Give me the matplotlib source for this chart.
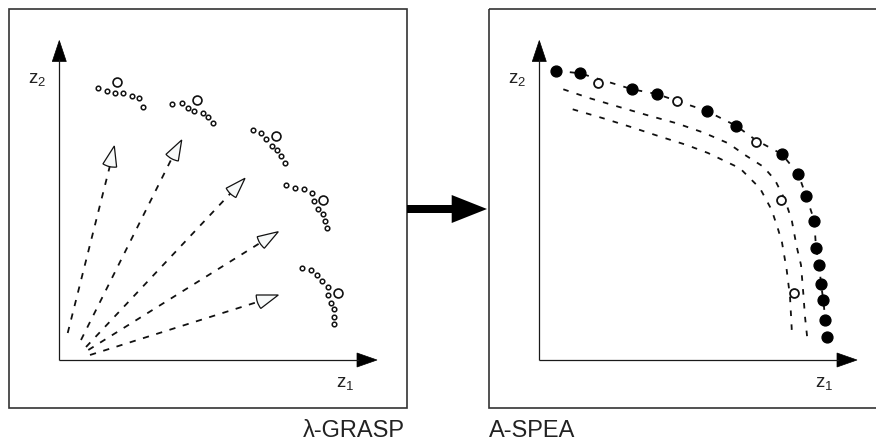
import numpy as np
import matplotlib
matplotlib.use("Agg")
import matplotlib.pyplot as plt
from matplotlib.patches import Rectangle, Polygon, Wedge

plt.rcParams['font.family'] = ['Liberation Sans', 'DejaVu Sans']
plt.rcParams['mathtext.default'] = 'regular'
plt.rcParams['lines.scale_dashes'] = False

# ---------------- data (pixel-space schematic coordinates) ----------------
# Left panel (lambda-GRASP): five clusters of small solutions + one big circle each
cluster1_x = [97.7, 107.3, 115.0, 123.3, 132.3, 139.3, 142.7]
cluster1_y = [88.3, 90.7, 93.3, 92.7, 96.0, 97.7, 106.7]
cluster2_x = [172.0, 181.7, 187.7, 194.3, 202.7, 208.3, 213.3]
cluster2_y = [103.7, 102.7, 107.7, 111.0, 113.3, 117.3, 122.7]
cluster3_x = [252.7, 261.3, 265.7, 271.7, 276.7, 281.3, 285.0]
cluster3_y = [130.0, 132.7, 139.3, 145.7, 150.0, 155.7, 162.7]
cluster4_x = [286.0, 295.0, 304.0, 312.3, 314.3, 318.3, 322.7, 325.0, 327.3]
cluster4_y = [185.3, 187.7, 189.0, 193.3, 201.0, 209.0, 214.3, 220.7, 228.3]
cluster5_x = [301.7, 311.0, 317.3, 322.3, 328.3, 328.3, 330.7, 334.0, 334.3, 334.0]
cluster5_y = [268.3, 270.0, 275.0, 280.7, 287.3, 295.0, 303.3, 309.3, 317.3, 324.3]
big_x = [117.3, 196.7, 276.0, 322.7, 338.3]
big_y = [82.0, 100.0, 136.0, 200.0, 293.3]

# Search-direction arrows: start point, arrow tip, two base corners
arrow_start = [(67.7, 333.0), (81.0, 340.0), (86.0, 347.0), (88.3, 350.0), (90.0, 355.0)]
arrow_tip = [(114.3, 146.0), (181.7, 140.0), (245.0, 178.3), (278.3, 231.7), (278.3, 295.0)]
arrow_c1 = [(103.3, 163.3), (166.0, 154.3), (226.0, 188.3), (257.3, 236.7), (256.0, 295.0)]
arrow_c2 = [(116.7, 167.7), (178.3, 161.0), (236.0, 197.3), (264.3, 248.3), (261.0, 308.3)]

# Right panel (A-SPEA): three dashed fronts
outer_x = [556.0, 580.0, 632.3, 656.7, 706.7, 736.0, 755.7, 781.7, 798.3, 806.0,
           814.3, 816.0, 819.3, 821.0, 823.3, 825.3, 827.3]
outer_y = [70.7, 73.3, 89.3, 94.0, 111.0, 125.7, 140.0, 154.0, 174.0, 195.7,
           220.7, 248.3, 265.0, 284.0, 300.0, 320.0, 336.7]
middle_x = [563.3, 590.0, 618.3, 646.7, 676.7, 703.3, 728.3, 745.0, 763.3, 775.0,
            785.0, 791.7, 796.7, 801.0, 803.3, 805.0, 807.3]
middle_y = [89.3, 98.3, 106.7, 115.0, 123.3, 132.5, 143.3, 155.0, 166.7, 180.0,
            200.0, 220.0, 246.7, 265.0, 293.3, 316.7, 338.3]
inner_x = [572.7, 603.3, 630.0, 658.3, 686.7, 708.0, 740.0, 760.0, 771.7, 778.3,
           782.0, 786.7, 790.0, 791.7, 791.7]
inner_y = [109.3, 118.3, 126.7, 136.0, 145.0, 153.0, 168.3, 188.3, 210.0, 230.0,
           242.5, 270.0, 296.7, 328.3, 331.7]
# Filled dots (archive) and open circles
filled_x = [556.0, 580.0, 632.3, 656.7, 706.7, 736.0, 781.7, 798.3, 806.0, 814.3,
            816.0, 819.3, 821.0, 823.3, 825.3, 827.3]
filled_y = [70.7, 73.3, 89.3, 94.0, 111.0, 125.7, 154.0, 174.0, 195.7, 220.7,
            248.3, 265.0, 284.0, 300.0, 320.0, 336.7]
open_x = [597.7, 676.7, 755.7, 781.0, 793.5]
open_y = [83.3, 100.7, 141.7, 200.0, 293.3]

labels_bottom = ["λ-GRASP", "A-SPEA"]

# ---------------- figure ----------------
W, H = 876, 443
fig = plt.figure(figsize=(W / 100, H / 100), dpi=100)
ax = fig.add_axes([0, 0, 1, 1])
ax.set_xlim(0, W)
ax.set_ylim(H, 0)
ax.axis('off')

frame_c = '#333333'
ax_c = '#1a1a1a'

# panel frames
ax.add_patch(Rectangle((8.5, 9.0), 398.5, 398.5, fill=False, ec=frame_c, lw=1.2))
ax.add_patch(Rectangle((489.3, 9.0), 398.5, 398.5, fill=False, ec=frame_c, lw=1.2))


def axes_arrows(x0, y0, xend, ytop):
    ax.plot([x0, x0], [y0, ytop + 18], color=ax_c, lw=0.9, solid_capstyle='butt')
    ax.plot([x0, xend - 18], [y0, y0], color=ax_c, lw=0.9, solid_capstyle='butt')
    ax.add_patch(Polygon([(x0, ytop), (x0 - 7, ytop + 21), (x0 + 7, ytop + 21)],
                         closed=True, fc='black', ec='black', lw=0.5))
    ax.add_patch(Polygon([(xend, y0), (xend - 20, y0 - 7), (xend - 20, y0 + 7)],
                         closed=True, fc='black', ec='black', lw=0.5))


axes_arrows(59.3, 360.0, 377.0, 40.5)
axes_arrows(539.3, 360.0, 857.0, 40.5)

fs = 13.5
ax.text(27.5, 83, r'$z_2$', fontsize=fs, ha='left', va='baseline', color='#222222')
ax.text(335.5, 387, r'$z_1$', fontsize=fs, ha='left', va='baseline', color='#222222')
ax.text(507.5, 83, r'$z_2$', fontsize=fs, ha='left', va='baseline', color='#222222')
ax.text(815, 387, r'$z_1$', fontsize=fs, ha='left', va='baseline', color='#222222')

# left clusters
for cx, cy in [(cluster1_x, cluster1_y), (cluster2_x, cluster2_y), (cluster3_x, cluster3_y),
               (cluster4_x, cluster4_y), (cluster5_x, cluster5_y)]:
    ax.plot(cx, cy, 'o', ms=3.3, mfc='white', mec='#111111', mew=1.1, ls='none')
ax.plot(big_x, big_y, 'o', ms=6.4, mfc='white', mec='#111111', mew=1.2, ls='none')

# left arrows
for s, t, c1, c2 in zip(arrow_start, arrow_tip, arrow_c1, arrow_c2):
    mx, my = (c1[0] + c2[0]) / 2, (c1[1] + c2[1]) / 2
    ax.plot([s[0], mx], [s[1], my], color='#111111', lw=1.3, dashes=(4.5, 5.5),
            solid_capstyle='butt', dash_capstyle='butt')
    a1 = np.degrees(np.arctan2(c1[1] - t[1], c1[0] - t[0]))
    a2 = np.degrees(np.arctan2(c2[1] - t[1], c2[0] - t[0]))
    if (a2 - a1) % 360 > 180:
        a1, a2 = a2, a1
    r = (np.hypot(c1[0] - t[0], c1[1] - t[1]) + np.hypot(c2[0] - t[0], c2[1] - t[1])) / 2
    ax.add_patch(Wedge(t, r, a1, a2, fc='#f7f9f9', ec='#111111', lw=0.9, zorder=3))

# middle big arrow
ax.add_patch(Rectangle((407.0, 205.0), 46.0, 8.3, fc='black', ec='none'))
ax.add_patch(Polygon([(487.0, 209.0), (451.7, 195.0), (451.7, 223.0)], closed=True,
                     fc='black', ec='none'))

# right fronts
for cx, cy in [(outer_x, outer_y), (middle_x, middle_y), (inner_x, inner_y)]:
    ax.plot(cx, cy, color='#111111', lw=1.3, dashes=(4.0, 6.0), zorder=1)
ax.plot(filled_x, filled_y, 'o', ms=7.8, mfc='black', mec='black', ls='none', zorder=4)
ax.plot(open_x, open_y, 'o', ms=6.4, mfc='white', mec='#111111', mew=1.3, ls='none', zorder=4)

# bottom labels
ax.text(405, 437, labels_bottom[0], fontsize=17, ha='right', va='baseline', color='#222222')
ax.text(488.5, 437, labels_bottom[1], fontsize=17, ha='left', va='baseline', color='#222222')

fig.savefig('out.png', dpi=100)
